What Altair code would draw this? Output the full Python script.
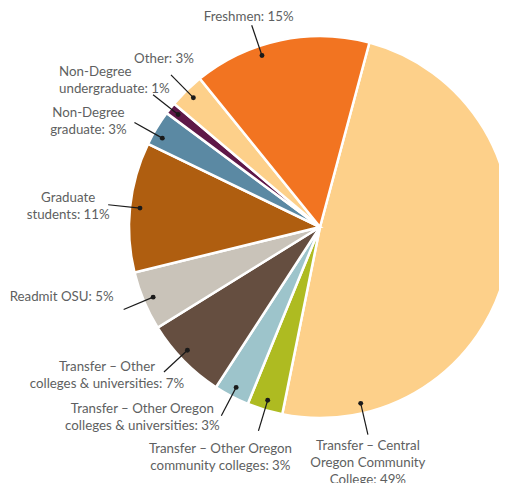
import math
import altair as alt
import pandas as pd

# ---- data ----
categories = [
    "Transfer – Central Oregon Community College",
    "Transfer – Other Oregon community colleges",
    "Transfer – Other Oregon colleges & universities",
    "Transfer – Other colleges & universities",
    "Readmit OSU",
    "Graduate students",
    "Non-Degree graduate",
    "Non-Degree undergraduate",
    "Other",
    "Freshmen",
]
percent = [49, 3, 3, 7, 5, 11, 3, 1, 3, 15]
colors = ["#FDD08A", "#AEBB21", "#9DC4CB", "#654E40", "#C9C3B9",
          "#AF5E10", "#5B89A3", "#5E1848", "#FDD08A", "#F27421"]
label_lines = [
    ["Transfer – Central", "Oregon Community", "College: 49%"],
    ["Transfer – Other Oregon", "community colleges: 3%"],
    ["Transfer – Other Oregon", "colleges & universities: 3%"],
    ["Transfer – Other", "colleges & universities: 7%"],
    ["Readmit OSU: 5%"],
    ["Graduate", "students: 11%"],
    ["Non-Degree", "graduate: 3%"],
    ["Non-Degree", "undergraduate: 1%"],
    ["Other: 3%"],
    ["Freshmen: 15%"],
]

# ---- layout ----
W, H = 491, 475
CX, CY = 312, 219
R = 191
START_DEG = 15
DOT_R, LINE_R = 181, 213
LH = 17
angle_shift = [63.8, 0, 0, 1.5, 0, 0, -1.8, 0, 0, -6.7]
label_offset = [(0, 28), (-38, 27), (-79, 1.5), (-57, 3.5), (-62, -13),
                (-40, 2), (-46, -1), (-94, -14.5), (-7, -16), (-3, -8)]
label_align = ["center"] * 7 + ["left", "center", "center"]

start = math.radians(START_DEG)
df = pd.DataFrame({"category": categories, "value": percent,
                   "idx": list(range(len(categories)))})

total = sum(percent)
rows = []
cum = 0
for i, p in enumerate(percent):
    mid = START_DEG + 360 * (cum + p / 2) / total + angle_shift[i]
    cum += p
    t = math.radians(mid)
    dx, dy = math.sin(t), -math.cos(t)
    x1, y1 = CX + DOT_R * dx, CY + DOT_R * dy
    x2, y2 = CX + LINE_R * dx, CY + LINE_R * dy
    ox, oy = label_offset[i]
    n = len(label_lines[i])
    rows.append({"category": categories[i], "dx": x1, "dy": y1,
                 "lx": x2, "ly": y2, "tx": x2 + ox,
                 "ty": y2 + oy - (n - 1) * LH / 2,
                 "label": "\n".join(label_lines[i]), "align": label_align[i]})
ann = pd.DataFrame(rows)

pie = alt.Chart(df).mark_arc(outerRadius=R, stroke="white", strokeWidth=2.5).encode(
    theta=alt.Theta("value:Q", stack=True,
                    scale=alt.Scale(range=[start, start + 2 * math.pi])),
    order=alt.Order("idx:Q"),
    color=alt.Color("category:N", scale=alt.Scale(domain=categories, range=colors),
                    legend=None),
    x=alt.value(CX), y=alt.value(CY),
)

base = alt.Chart(ann)
lines = base.mark_rule(color="#1a1a1a", strokeWidth=1.2).encode(
    x=alt.X("dx:Q", scale=None), y=alt.Y("dy:Q", scale=None),
    x2="lx:Q", y2="ly:Q",
)
dots = base.mark_circle(color="#1a1a1a", opacity=1, size=24).encode(
    x=alt.X("dx:Q", scale=None), y=alt.Y("dy:Q", scale=None),
)
text_kw = dict(font="Lato", fontSize=13.3, color="#5E5F61", lineBreak="\n",
               lineHeight=LH, baseline="middle")
labels_c = base.transform_filter(alt.datum.align == "center").mark_text(
    align="center", **text_kw).encode(
    x=alt.X("tx:Q", scale=None), y=alt.Y("ty:Q", scale=None), text="label:N")
labels_l = base.transform_filter(alt.datum.align == "left").mark_text(
    align="left", **text_kw).encode(
    x=alt.X("tx:Q", scale=None), y=alt.Y("ty:Q", scale=None), text="label:N")

chart = alt.layer(pie, lines, dots, labels_c, labels_l).properties(
    width=W, height=H, padding=0, autosize=alt.AutoSizeParams(type="none")
).configure_view(stroke=None)

chart.save("out.html", embed_options={"renderer": "svg", "actions": False})
